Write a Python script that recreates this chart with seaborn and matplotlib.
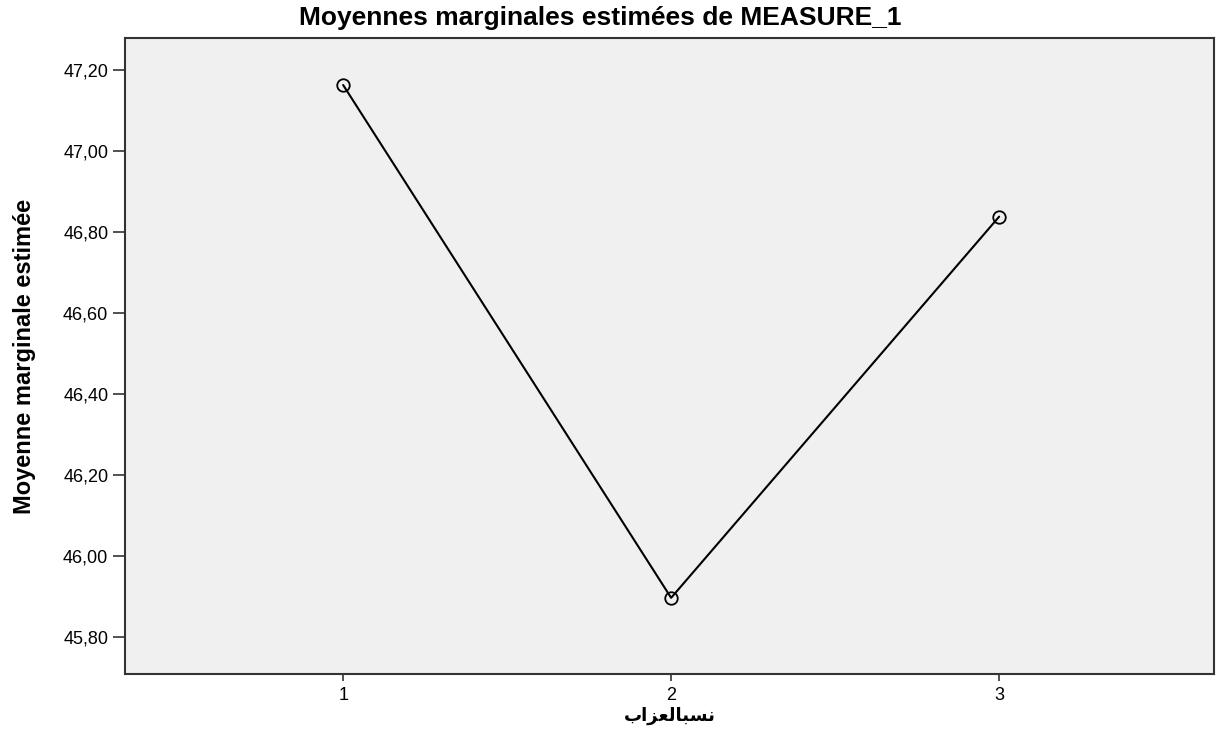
import matplotlib
matplotlib.use("Agg")
import matplotlib.pyplot as plt
import seaborn as sns
import pandas as pd

categories = [1, 2, 3]
means = [47.163, 45.897, 46.838]
yticks = [45.80, 46.00, 46.20, 46.40, 46.60, 46.80, 47.00, 47.20]
title = "Moyennes marginales estimées de MEASURE_1"
ylabel = "Moyenne marginale estimée"
# Arabic label "نسبالعزاب" written with presentation forms in visual order
xlabel = "\uFE8F\uFE8D\uFEB0\uFECC\uFEDF\uFE8E\uFE92\uFEB4\uFEE7"

sns.set_theme(style="white")
plt.rcParams['font.family'] = ['Liberation Sans', 'DejaVu Sans']
plt.rcParams['text.color'] = 'black'
plt.rcParams['axes.labelcolor'] = 'black'

df = pd.DataFrame({"x": categories, "y": means})

fig = plt.figure(figsize=(12.16, 7.47), dpi=100)
ax = fig.add_axes([125/1216, 1-674/747, (1214-125)/1216, (674-38)/747])
ax.set_facecolor("#f0f0f0")

sns.lineplot(data=df, x="x", y="y", ax=ax, color="black", linewidth=1.5,
             marker="o", markersize=9, markerfacecolor="none",
             markeredgecolor="black", markeredgewidth=1.3)

ax.set_xlim(0.335, 3.655)
ax.set_ylim(45.709, 47.279)
ax.set_xticks(categories)
ax.set_xticklabels([str(c) for c in categories])
ax.set_yticks(yticks)
ax.set_yticklabels([f"{v:.2f}".replace(".", ",") for v in yticks])
ax.tick_params(axis="both", direction="out", width=1.2, color="#333333",
               labelsize=13, left=True, bottom=True, labelcolor="black")
ax.tick_params(axis="y", length=9, pad=3)
ax.tick_params(axis="x", length=5, pad=4)

for s in ax.spines.values():
    s.set_color("#333333")
    s.set_linewidth(1.5)

fig.text(600/1216, 1-18/747, title, fontsize=19, fontweight="bold",
         ha="center", va="center", color="black")
ax.set_ylabel(ylabel, fontsize=17, fontweight="bold", color="black")
ax.yaxis.set_label_coords(-(125-25)/1089, 0.5)
ax.yaxis.label.set_va("center")
ax.set_xlabel(xlabel, fontsize=13, fontweight="bold", family=['DejaVu Sans'], color="black")
ax.xaxis.set_label_coords(0.5, -(716-674)/636)
ax.xaxis.label.set_va("center")

fig.savefig("out.png", dpi=100, facecolor="white")
